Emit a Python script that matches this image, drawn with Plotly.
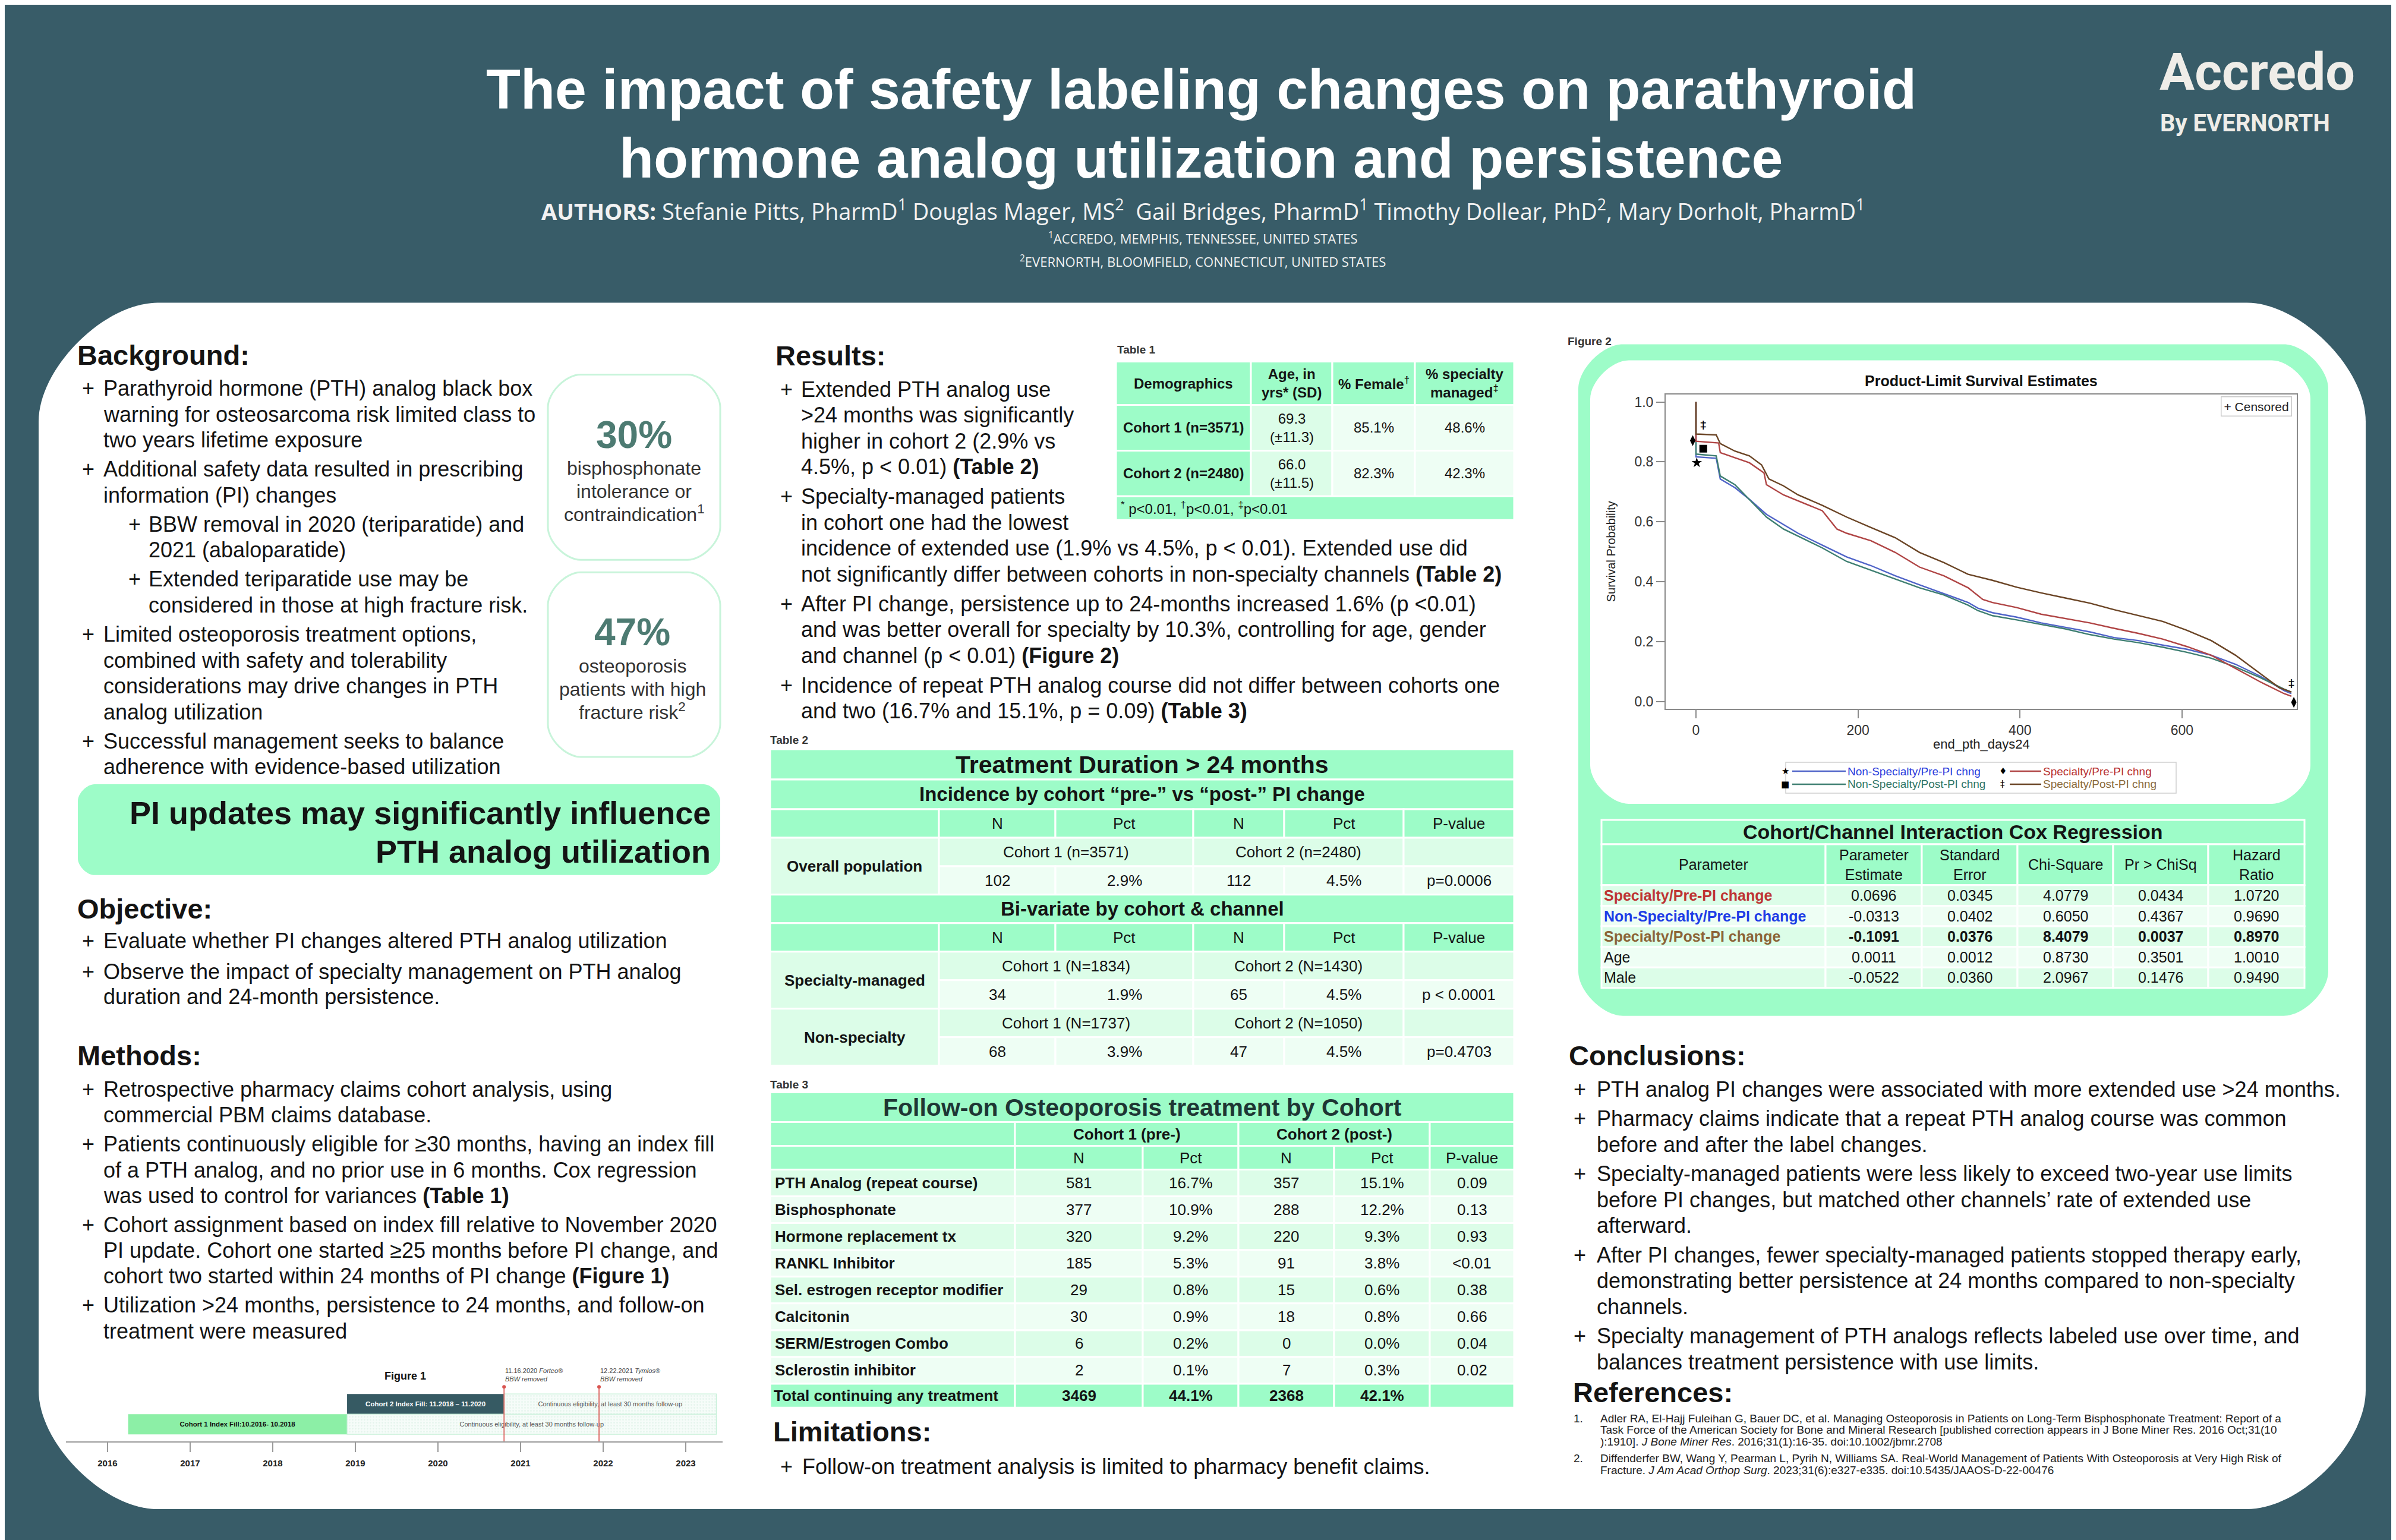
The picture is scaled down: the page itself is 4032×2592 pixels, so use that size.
import plotly.graph_objects as go

W, H = 4032, 2592
BG = "#385c68"
MINT = "#9dfcc8"
LIGHT1 = "#dcfde8"
LIGHT2 = "#eefef4"
INK = "#141414"
FONT = "Liberation Sans, Arial, sans-serif"

# ---------------- data: Figure 2 (Kaplan-Meier) ----------------
GROUP_NAMES = ["Non-Specialty/Pre-PI chng", "Non-Specialty/Post-PI chng",
               "Specialty/Pre-PI chng", "Specialty/Post-PI chng"]

NS_PRE_DAYS = [0, 0, 25, 30, 48, 66, 87, 108, 126, 156, 186, 216, 246, 276, 306, 336,
               348, 366, 396, 426, 456, 486, 516, 546, 576, 606, 636, 666, 696, 726, 735]
NS_PRE_SURV = [1.0, 0.817, 0.812, 0.743, 0.714, 0.675, 0.625, 0.591, 0.562, 0.522, 0.483,
               0.454, 0.42, 0.39, 0.361, 0.331, 0.312, 0.297, 0.282, 0.263, 0.248, 0.233,
               0.214, 0.204, 0.189, 0.175, 0.155, 0.125, 0.086, 0.037, 0.027]

NS_POST_DAYS = [0, 0, 25, 30, 48, 66, 87, 108, 126, 156, 186, 216, 246, 276, 306, 336,
                348, 366, 396, 426, 456, 486, 516, 546, 576, 606, 636, 666, 696, 726, 735]
NS_POST_SURV = [1.0, 0.826, 0.82, 0.753, 0.724, 0.675, 0.616, 0.576, 0.552, 0.513, 0.468,
                0.439, 0.41, 0.38, 0.356, 0.322, 0.304, 0.287, 0.273, 0.258, 0.243, 0.224,
                0.209, 0.197, 0.182, 0.165, 0.145, 0.116, 0.081, 0.042, 0.032]

S_PRE_DAYS = [0, 0, 28, 30, 48, 66, 84, 87, 108, 126, 156, 174, 186, 216, 246, 276, 306,
              336, 354, 366, 396, 426, 456, 486, 516, 546, 576, 606, 636, 666, 696, 726, 735]
S_PRE_SURV = [1.0, 0.869, 0.863, 0.831, 0.814, 0.797, 0.763, 0.724, 0.69, 0.67, 0.637,
              0.576, 0.562, 0.537, 0.498, 0.449, 0.42, 0.38, 0.341, 0.331, 0.314, 0.292,
              0.277, 0.263, 0.245, 0.228, 0.209, 0.184, 0.155, 0.111, 0.067, 0.027, 0.018]

S_POST_DAYS = [0, 0, 25, 30, 48, 66, 81, 90, 108, 126, 156, 186, 216, 246, 276, 306, 336,
               366, 396, 426, 456, 486, 516, 546, 576, 606, 636, 666, 696, 720, 735]
S_POST_SURV = [1.0, 0.893, 0.89, 0.861, 0.836, 0.82, 0.79, 0.743, 0.72, 0.69, 0.655,
               0.616, 0.581, 0.547, 0.498, 0.464, 0.425, 0.405, 0.382, 0.363, 0.346, 0.329,
               0.307, 0.287, 0.268, 0.238, 0.204, 0.155, 0.096, 0.047, 0.032]

# censored symbols drawn at both ends (star, square, diamond, double dagger)
CENS_MARK_X = [1, 9, -4, 747, 742, 738]
CENS_MARK_Y = [0.797, 0.844, 0.871, 0.008, 0.03, -0.002]
CENS_MARK_SYM = ["star", "square", "diamond-tall", "star", "square", "diamond-tall"]
CENS_DAG_X = [9, 735]
CENS_DAG_Y = [0.92, 0.057]

# ---------------- data: Figure 1 timeline ----------------
TL_LABELS = ["Cohort 1 Index Fill:10.2016- 10.2018", "Cohort 2 Index Fill: 11.2018 \u2013 11.2020"]
TL_ROW = [0, 1]
TL_START = [2016.25, 2018.9]
TL_END = [2018.9, 2020.8]
ELIG_LABEL = "Continuous eligibility, at least 30 months follow-up"
ELIG_START = [2018.9, 2020.8]
ELIG_END = [2023.37, 2023.37]
EVENT_X = [2020.8, 2021.95]
EVENT_TEXT = ["11.16.2020 <i>Forteo\u00ae</i><br><i>BBW removed</i>",
              "12.22.2021 <i>Tymlos\u00ae</i><br><i>BBW removed</i>"]
YEARS = [2016, 2017, 2018, 2019, 2020, 2021, 2022, 2023]

# ---------------- data: tables ----------------
T1_HEAD = ["Demographics", "Age, in<br>yrs* (SD)", "% Female<sup>\u2020</sup>",
           "% specialty<br>managed<sup>\u2021</sup>"]
T1_ROWS = ["Cohort 1 (n=3571)", "Cohort 2 (n=2480)"]
T1_AGE = ["69.3<br>(\u00b111.3)", "66.0<br>(\u00b111.5)"]
T1_FEMALE = ["85.1%", "82.3%"]
T1_SPEC = ["48.6%", "42.3%"]
T1_NOTE = "<sup>*</sup> p&lt;0.01, <sup>\u2020</sup>p&lt;0.01, <sup>\u2021</sup>p&lt;0.01"

T2_GROUPS = ["Overall population", "Specialty-managed", "Non-specialty"]
T2_C1_LABEL = ["Cohort 1 (n=3571)", "Cohort 1 (N=1834)", "Cohort 1 (N=1737)"]
T2_C2_LABEL = ["Cohort 2 (n=2480)", "Cohort 2 (N=1430)", "Cohort 2 (N=1050)"]
T2_C1_N = [102, 34, 68]
T2_C1_PCT = ["2.9%", "1.9%", "3.9%"]
T2_C2_N = [112, 65, 47]
T2_C2_PCT = ["4.5%", "4.5%", "4.5%"]
T2_P = ["p=0.0006", "p &lt; 0.0001", "p=0.4703"]
T2_HEAD = ["", "N", "Pct", "N", "Pct", "P-value"]

T3_ROWS = ["PTH Analog (repeat course)", "Bisphosphonate", "Hormone replacement tx",
           "RANKL Inhibitor", "Sel. estrogen receptor modifier", "Calcitonin",
           "SERM/Estrogen Combo", "Sclerostin inhibitor"]
T3_C1_N = [581, 377, 320, 185, 29, 30, 6, 2]
T3_C1_PCT = ["16.7%", "10.9%", "9.2%", "5.3%", "0.8%", "0.9%", "0.2%", "0.1%"]
T3_C2_N = [357, 288, 220, 91, 15, 18, 0, 7]
T3_C2_PCT = ["15.1%", "12.2%", "9.3%", "3.8%", "0.6%", "0.8%", "0.0%", "0.3%"]
T3_P = ["0.09", "0.13", "0.93", "&lt;0.01", "0.38", "0.66", "0.04", "0.02"]
T3_TOTAL = ["Total continuing any treatment", 3469, "44.1%", 2368, "42.1%", ""]

COX_HEAD = ["Parameter", "Parameter<br>Estimate", "Standard<br>Error", "Chi-Square",
            "Pr &gt; ChiSq", "Hazard<br>Ratio"]
COX_PARAM = ["Specialty/Pre-PI change", "Non-Specialty/Pre-PI change",
             "Specialty/Post-PI change", "Age", "Male"]
COX_EST = ["0.0696", "-0.0313", "-0.1091", "0.0011", "-0.0522"]
COX_SE = ["0.0345", "0.0402", "0.0376", "0.0012", "0.0360"]
COX_CHI = ["4.0779", "0.6050", "8.4079", "0.8730", "2.0967"]
COX_P = ["0.0434", "0.4367", "0.0037", "0.3501", "0.1476"]
COX_HR = ["1.0720", "0.9690", "0.8970", "1.0010", "0.9490"]

# ---------------- poster text ----------------
BACKGROUND = [
    (0, ["Parathyroid hormone (PTH) analog black box",
         "warning for osteosarcoma risk limited class to",
         "two years lifetime exposure"]),
    (0, ["Additional safety data resulted in prescribing", "information (PI) changes"]),
    (1, ["BBW removal in 2020 (teriparatide) and", "2021 (abaloparatide)"]),
    (1, ["Extended teriparatide use may be", "considered in those at high fracture risk."]),
    (0, ["Limited osteoporosis treatment options,", "combined with safety and tolerability",
         "considerations may drive changes in PTH", "analog utilization"]),
    (0, ["Successful management seeks to balance",
         "adherence with evidence-based utilization"]),
]
OBJECTIVE = [
    (0, ["Evaluate whether PI changes altered PTH analog utilization"]),
    (0, ["Observe the impact of specialty management on PTH analog",
         "duration and 24-month persistence."]),
]
METHODS = [
    (0, ["Retrospective pharmacy claims cohort analysis, using",
         "commercial PBM claims database."]),
    (0, ["Patients continuously eligible for \u226530 months, having an index fill",
         "of a PTH analog, and no prior use in 6 months. Cox regression",
         "was used to control for variances <b>(Table 1)</b>"]),
    (0, ["Cohort assignment based on index fill relative to November 2020",
         "PI update. Cohort one started \u226525 months before PI change, and",
         "cohort two started within 24 months of PI change <b>(Figure 1)</b>"]),
    (0, ["Utilization &gt;24 months, persistence to 24 months, and follow-on",
         "treatment were measured"]),
]
RESULTS = [
    (0, ["Extended PTH analog use", "&gt;24 months was significantly",
         "higher in cohort 2 (2.9% vs", "4.5%, p &lt; 0.01) <b>(Table 2)</b>"]),
    (0, ["Specialty-managed patients", "in cohort one had the lowest",
         "incidence of extended use (1.9% vs 4.5%, p &lt; 0.01). Extended use did",
         "not significantly differ between cohorts in non-specialty channels <b>(Table 2)</b>"]),
    (0, ["After PI change, persistence up to 24-months increased 1.6% (p &lt;0.01)",
         "and was better overall for specialty by 10.3%, controlling for age, gender",
         "and channel (p &lt; 0.01) <b>(Figure 2)</b>"]),
    (0, ["Incidence of repeat PTH analog course did not differ between cohorts one",
         "and two (16.7% and 15.1%, p = 0.09) <b>(Table 3)</b>"]),
]
LIMITATIONS = [(0, ["Follow-on treatment analysis is limited to pharmacy benefit claims."])]
CONCLUSIONS = [
    (0, ["PTH analog PI changes were associated with more extended use &gt;24 months."]),
    (0, ["Pharmacy claims indicate that a repeat PTH analog course was common",
         "before and after the label changes."]),
    (0, ["Specialty-managed patients were less likely to exceed two-year use limits",
         "before PI changes, but matched other channels\u2019 rate of extended use",
         "afterward."]),
    (0, ["After PI changes, fewer specialty-managed patients stopped therapy early,",
         "demonstrating better persistence at 24 months compared to non-specialty",
         "channels."]),
    (0, ["Specialty management of PTH analogs reflects labeled use over time, and",
         "balances treatment persistence with use limits."]),
]
REFERENCES = [
    ["Adler RA, El-Hajj Fuleihan G, Bauer DC, et al. Managing Osteoporosis in Patients on Long-Term Bisphosphonate Treatment: Report of a",
     "Task Force of the American Society for Bone and Mineral Research [published correction appears in J Bone Miner Res. 2016 Oct;31(10",
     "):1910]. <i>J Bone Miner Res</i>. 2016;31(1):16-35. doi:10.1002/jbmr.2708"],
    ["Diffenderfer BW, Wang Y, Pearman L, Pyrih N, Williams SA. Real-World Management of Patients With Osteoporosis at Very High Risk of",
     "Fracture. <i>J Am Acad Orthop Surg</i>. 2023;31(6):e327-e335. doi:10.5435/JAAOS-D-22-00476"],
]

# ---------------- helpers (pixel -> paper) ----------------
shapes, annos = [], []


def X(v):
    return v / W


def Y(v):
    return 1 - v / H


def text(x, y, s, size=36, color=INK, anchor="left", family=FONT, yanchor="middle", **kw):
    annos.append(dict(xref="paper", yref="paper", x=X(x), y=Y(y), text=s, showarrow=False,
                      xanchor=anchor, yanchor=yanchor,
                      font=dict(size=size, color=color, family=family), **kw))


def rect(x0, y0, x1, y1, fill, line="white", lw=0):
    shapes.append(dict(type="rect", xref="paper", yref="paper", x0=X(x0), x1=X(x1),
                       y0=Y(y1), y1=Y(y0), fillcolor=fill,
                       line=dict(color=line, width=lw), layer="below"))


def rrect(x0, y0, x1, y1, r, fill, line=None, lw=0):
    k = 0.45 * r
    P = lambda a, b: "%.6f,%.6f" % (X(a), Y(b))
    path = ("M" + P(x0 + r, y0) + " L" + P(x1 - r, y0)
            + " C" + P(x1 - r + k, y0) + " " + P(x1, y0 + r - k) + " " + P(x1, y0 + r)
            + " L" + P(x1, y1 - r)
            + " C" + P(x1, y1 - r + k) + " " + P(x1 - r + k, y1) + " " + P(x1 - r, y1)
            + " L" + P(x0 + r, y1)
            + " C" + P(x0 + r - k, y1) + " " + P(x0, y1 - r + k) + " " + P(x0, y1 - r)
            + " L" + P(x0, y0 + r)
            + " C" + P(x0, y0 + r - k) + " " + P(x0 + r - k, y0) + " " + P(x0 + r, y0) + " Z")
    shapes.append(dict(type="path", xref="paper", yref="paper", path=path, fillcolor=fill,
                       line=dict(color=line or fill, width=lw), layer="below"))


def cell(x0, y0, x1, y1, fill, s="", size=26, color=INK, align="center", pad=8):
    rect(x0, y0, x1, y1, fill, "white", 3)
    if s == "":
        return
    if align == "left":
        text(x0 + pad, (y0 + y1) / 2, s, size, color)
    else:
        text((x0 + x1) / 2, (y0 + y1) / 2, s, size, color, "center")


def bullets(items, y0, xp, xt, xsp=0, xst=0, lh=43.6, gap=5.5, size=36):
    y = y0
    for n, (lvl, lines) in enumerate(items):
        if n:
            y += gap
        bx, tx = (xp, xt) if lvl == 0 else (xsp, xst)
        text(bx, y, "+", size)
        for line in lines:
            text(tx, y, line, size)
            y += lh


def bold(v):
    return "<b>%s</b>" % v


# ---------------- header ----------------
text(2013, 141, bold("The impact of safety labeling changes on parathyroid"), 95, "white", "center")
text(2013, 257, bold("hormone analog utilization and persistence"), 95, "white", "center")
text(2016, 345, "<b>AUTHORS:</b> Stefanie Pitts, PharmD<sup>1</sup> Douglas Mager, MS<sup>2</sup>  "
     "Gail Bridges, PharmD<sup>1</sup> Timothy Dollear, PhD<sup>2</sup>, Mary Dorholt, PharmD<sup>1</sup>",
     38, "#f2f2f2", "center", family="Open Sans")
text(2016, 392, "<sup>1</sup>ACCREDO, MEMPHIS, TENNESSEE, UNITED STATES", 22, "#f2f2f2", "center",
     family="Open Sans")
text(2016, 431, "<sup>2</sup>EVERNORTH, BLOOMFIELD, CONNECTICUT, UNITED STATES", 22, "#f2f2f2",
     "center", family="Open Sans")
text(3624, 112, bold("Accredo"), 88, "#efede8", family="Roboto")
text(3625, 199, bold("By EVERNORTH"), 40, "#efede8", family="Roboto")

# white content panel
rrect(57, 501, 3973, 2533, 200, "white")

# ---------------- left column ----------------
text(120, 589, bold("Background:"), 47)
bullets(BACKGROUND, 645, 128, 164, 206, 240)

rrect(914, 622, 1204, 934, 55, "white", "#c8f4da", 3)
rrect(914, 955, 1204, 1266, 55, "white", "#c8f4da", 3)
text(1059, 724, bold("30%"), 64, "#4d7b72", "center")
for s, y in zip(["bisphosphonate", "intolerance or", "contraindication<sup>1</sup>"], [780, 819, 856]):
    text(1059, y, s, 32, "#333333", "center")
text(1056, 1056, bold("47%"), 64, "#4d7b72", "center")
for s, y in zip(["osteoporosis", "patients with high", "fracture risk<sup>2</sup>"], [1113, 1152, 1189]):
    text(1056, y, s, 32, "#333333", "center")

rrect(123, 1312, 1204, 1465, 28, MINT)
text(1190, 1360, bold("PI updates may significantly influence"), 54, INK, "right")
text(1190, 1425, bold("PTH analog utilization"), 54, INK, "right")

text(120, 1522, bold("Objective:"), 47)
bullets(OBJECTIVE, 1576, 128, 164, lh=42.5, gap=9)

text(120, 1769, bold("Methods:"), 47)
bullets(METHODS, 1826, 128, 164, lh=43.2, gap=6)

# ---------------- middle column ----------------
text(1295, 590, bold("Results:"), 47)
bullets(RESULTS, 647, 1303, 1338, lh=43.4, gap=7)

# Table 1
text(1870, 580, bold("Table 1"), 19, "#333333")
c1 = [1870, 2097, 2234, 2373, 2540]
r1 = [600, 673, 750, 827, 867]
for j, h in enumerate(T1_HEAD):
    cell(c1[j], r1[0], c1[j + 1], r1[1], MINT, bold(h), 24)
for i in range(2):
    cell(c1[0], r1[i + 1], c1[1], r1[i + 2], MINT, bold(T1_ROWS[i]), 24)
    cell(c1[1], r1[i + 1], c1[2], r1[i + 2], LIGHT1, T1_AGE[i], 24)
    cell(c1[2], r1[i + 1], c1[3], r1[i + 2], LIGHT2, T1_FEMALE[i], 24)
    cell(c1[3], r1[i + 1], c1[4], r1[i + 2], LIGHT2, T1_SPEC[i], 24)
cell(c1[0], r1[3], c1[4], r1[4], MINT, T1_NOTE, 24, align="left", pad=6)

# Table 2
text(1286, 1237, bold("Table 2"), 19, "#333333")
c2 = [1288, 1572, 1768, 2000, 2153, 2354, 2540]
cell(c2[0], 1253, c2[6], 1304, MINT, bold("Treatment Duration &gt; 24 months"), 41)
cell(c2[0], 1304, c2[6], 1354, MINT,
     bold("Incidence by cohort \u201cpre-\u201d vs \u201cpost-\u201d PI change"), 33)
section_top = [1354, 1546, 1690]
for g in range(3):
    top = section_top[g]
    if g == 1:
        cell(c2[0], 1498, c2[6], 1546, MINT, bold("Bi-variate by cohort &amp; channel"), 33)
    if g < 2:
        for j, h in enumerate(T2_HEAD):
            cell(c2[j], top, c2[j + 1], top + 48, MINT, h, 26)
        ra = top + 48
    else:
        ra = top
    rb, rc = ra + 48, ra + 96
    cell(c2[0], ra, c2[1], rc, LIGHT1, bold(T2_GROUPS[g]), 26)
    cell(c2[1], ra, c2[3], rb, LIGHT1, T2_C1_LABEL[g], 26)
    cell(c2[3], ra, c2[5], rb, LIGHT1, T2_C2_LABEL[g], 26)
    cell(c2[5], ra, c2[6], rb, LIGHT1)
    vals = [T2_C1_N[g], T2_C1_PCT[g], T2_C2_N[g], T2_C2_PCT[g], T2_P[g]]
    for j, v in enumerate(vals):
        cell(c2[j + 1], rb, c2[j + 2], rc, LIGHT2, str(v), 26)

# Table 3
text(1286, 1818, bold("Table 3"), 19, "#333333")
c3 = [1288, 1700, 1915, 2076, 2237, 2398, 2540]
cell(c3[0], 1831, c3[6], 1881, MINT, bold("Follow-on Osteoporosis treatment by Cohort"), 41, "#1e3634")
cell(c3[0], 1881, c3[1], 1921, MINT)
cell(c3[1], 1881, c3[3], 1921, MINT, bold("Cohort 1 (pre-)"), 26)
cell(c3[3], 1881, c3[5], 1921, MINT, bold("Cohort 2 (post-)"), 26)
cell(c3[5], 1881, c3[6], 1921, MINT)
for j, h in enumerate(T2_HEAD):
    cell(c3[j], 1921, c3[j + 1], 1961, MINT, h, 26)
rh = 45.1
for i, lab in enumerate(T3_ROWS):
    y0 = 1961 + i * rh
    fill = LIGHT1 if i % 2 == 0 else LIGHT2
    cell(c3[0], y0, c3[1], y0 + rh, fill, bold(lab), 26, align="left", pad=6)
    vals = [T3_C1_N[i], T3_C1_PCT[i], T3_C2_N[i], T3_C2_PCT[i], T3_P[i]]
    for j, v in enumerate(vals):
        cell(c3[j + 1], y0, c3[j + 2], y0 + rh, fill, str(v), 26)
yt = 1961 + 8 * rh
for j, v in enumerate(T3_TOTAL):
    cell(c3[j], yt, c3[j + 1], 2362, MINT, bold(v) if v != "" else "", 26,
         align="left" if j == 0 else "center", pad=4)

text(1291, 2402, bold("Limitations:"), 47)
bullets(LIMITATIONS, 2461, 1303, 1340)

# ---------------- right column ----------------
text(2628, 566, bold("Figure 2"), 19, "#333333")
rrect(2648, 571, 3910, 1702, 75, MINT)
rrect(2668, 598, 3880, 1345, 65, "white")
text(3326, 632, bold("Product-Limit Survival Estimates"), 25, "#111111", "center")
text(3326, 1244, "end_pth_days24", 22, "#222222", "center")
text(2703, 920, "Survival Probability", 20, "#222222", "center", textangle=-90)

# survival legend (drawn by hand, as in the SAS output)
rect(2997, 1275, 3654, 1327, "white", "#cfcfcf", 1.5)
LEG_LINE = ["#5064c8", "#3f7f72", "#b04545", "#6b4526"]
LEG_TEXT = ["#2a3cdc", "#2f7565", "#b8312f", "#8a6a3a"]
LEG_GLYPH = ["\u2605", "\u25a0", "\u2666", "\u2021"]
leg_pos = [(2996, 1290, 90), (2996, 1312, 90), (3362, 1290, 53), (3362, 1312, 53)]
for k in range(4):
    lx, ly, ln = leg_pos[k]
    text(lx, ly, LEG_GLYPH[k], 15, "#000000", "center", family="DejaVu Sans")
    shapes.append(dict(type="line", xref="paper", yref="paper", x0=X(lx + 12), x1=X(lx + 12 + ln),
                       y0=Y(ly), y1=Y(ly), line=dict(color=LEG_LINE[k], width=2.5)))
    text(lx + 13 + ln, ly, GROUP_NAMES[k], 19, LEG_TEXT[k])

# Cox regression table
cc = [2687, 3064, 3226, 3387, 3548, 3708, 3870]
cell(cc[0], 1372, cc[6], 1413, MINT, bold("Cohort/Channel Interaction Cox Regression"), 34)
for j, h in enumerate(COX_HEAD):
    cell(cc[j], 1413, cc[j + 1], 1482, MINT, h, 25)
COX_NAME_COLOR = ["#be3434", "#1e3ce6", "#8c6437", INK, INK]
cox_rows = list(zip(COX_EST, COX_SE, COX_CHI, COX_P, COX_HR))
crh = (1655 - 1482) / 5
for i, name in enumerate(COX_PARAM):
    y0 = 1482 + i * crh
    fill = LIGHT1 if i % 2 == 0 else LIGHT2
    cell(cc[0], y0, cc[1], y0 + crh, fill, bold(name) if i < 3 else name, 25,
         COX_NAME_COLOR[i], align="left", pad=2)
    for j, v in enumerate(cox_rows[i]):
        cell(cc[j + 1], y0, cc[j + 2], y0 + crh, fill, bold(v) if i == 2 else v, 25)

text(2630, 1769, bold("Conclusions:"), 47)
bullets(CONCLUSIONS, 1826, 2638, 2677, lh=43.7, gap=5.5)

text(2637, 2336, bold("References:"), 47)
ry = 2380
for n, ref in enumerate(REFERENCES):
    text(2638, ry, "%d." % (n + 1), 19, "#222222")
    for line in ref:
        text(2683, ry, line, 19, "#222222")
        ry += 19.5
    ry += 9

# ---------------- Figure 1 (timeline) ----------------
text(674, 2309, bold("Figure 1"), 18, "#111111", "center")

# ---------------- traces ----------------
fig = go.Figure()

curves = [(NS_PRE_DAYS, NS_PRE_SURV), (NS_POST_DAYS, NS_POST_SURV),
          (S_PRE_DAYS, S_PRE_SURV), (S_POST_DAYS, S_POST_SURV)]
for k, (dx, sy) in enumerate(curves):
    fig.add_trace(go.Scatter(x=dx, y=sy, mode="lines", name=GROUP_NAMES[k],
                             line=dict(color=LEG_LINE[k], width=2.4),
                             xaxis="x", yaxis="y", showlegend=False, hoverinfo="skip"))
fig.add_trace(go.Scatter(x=CENS_MARK_X, y=CENS_MARK_Y, mode="markers", xaxis="x", yaxis="y",
                         marker=dict(symbol=CENS_MARK_SYM, size=13, color="black"),
                         showlegend=False, cliponaxis=False, hoverinfo="skip"))
fig.add_trace(go.Scatter(x=CENS_DAG_X, y=CENS_DAG_Y, mode="text", text=["\u2021"] * 2,
                         textfont=dict(size=20, color="black", family="DejaVu Sans"),
                         xaxis="x", yaxis="y", showlegend=False, cliponaxis=False,
                         hoverinfo="skip"))
annos.append(dict(xref="x", yref="y", x=736, y=0.985, text="+ Censored", showarrow=False,
                  xanchor="right", yanchor="middle", bgcolor="white", bordercolor="#c8c8c8",
                  borderwidth=1.5, borderpad=4, font=dict(size=21, color="#222", family=FONT)))

# timeline bars
fig.add_trace(go.Bar(orientation="h", y=TL_ROW, base=TL_START,
                     x=[e - s for s, e in zip(TL_START, TL_END)], width=1.0,
                     marker=dict(color=["#8cefa6", "#365a63"], line=dict(width=0)),
                     text=[bold(t) for t in TL_LABELS], textposition="inside",
                     insidetextanchor="middle", textangle=0,
                     textfont=dict(size=11.5, color=["#111111", "#ffffff"], family=FONT),
                     xaxis="x2", yaxis="y2", showlegend=False, hoverinfo="skip"))
fig.add_trace(go.Bar(orientation="h", y=TL_ROW, base=ELIG_START,
                     x=[e - s for s, e in zip(ELIG_START, ELIG_END)], width=1.0,
                     marker=dict(color="#f6fcf9", line=dict(width=1.2, color="#c6f0d8"),
                                 pattern=dict(shape=".", fgcolor="#d3ebdf", size=5, solidity=0.25)),
                     text=[ELIG_LABEL] * 2, textposition="inside", insidetextanchor="middle",
                     textangle=0, textfont=dict(size=11, color="#555555", family=FONT),
                     xaxis="x2", yaxis="y2", showlegend=False, hoverinfo="skip"))
for ex, et in zip(EVENT_X, EVENT_TEXT):
    fig.add_trace(go.Scatter(x=[ex, ex], y=[-0.853, 1.85], mode="lines",
                             line=dict(color="#d9534f", width=1.6), xaxis="x2", yaxis="y2",
                             showlegend=False, hoverinfo="skip"))
    fig.add_trace(go.Scatter(x=[ex], y=[1.85], mode="markers",
                             marker=dict(color="#d9534f", size=6), xaxis="x2", yaxis="y2",
                             showlegend=False, hoverinfo="skip"))
    annos.append(dict(xref="x2", yref="paper", x=ex, y=Y(2322), text=et, showarrow=False,
                      xanchor="left", yanchor="bottom", align="left",
                      font=dict(size=11, color="#444444", family=FONT)))

axis_common = dict(showgrid=False, zeroline=False, showline=True, mirror=True,
                   linecolor="#8a8a8a", linewidth=2, ticks="outside", ticklen=14,
                   tickwidth=2, tickcolor="#8a8a8a",
                   tickfont=dict(size=23, color="#333333", family=FONT))

fig.update_layout(
    width=W, height=H, margin=dict(l=0, r=0, t=0, b=0),
    paper_bgcolor=BG, plot_bgcolor="rgba(0,0,0,0)",
    showlegend=False, barmode="overlay",
    shapes=shapes, annotations=annos,
    xaxis=dict(domain=[X(2795), X(3857)], range=[-37.4, 741.6], tickvals=[0, 200, 400, 600],
               anchor="y", **axis_common),
    yaxis=dict(domain=[Y(1185), Y(656)], range=[-0.0238, 1.0238],
               tickvals=[0, 0.2, 0.4, 0.6, 0.8, 1.0], tickformat=".1f", anchor="x",
               **axis_common),
    xaxis2=dict(domain=[X(103), X(1208)], range=[2015.497, 2023.446], anchor="y2",
                showgrid=False, zeroline=False, showline=True, linecolor="#9a9a9a",
                linewidth=2, ticks="outside", ticklen=16, tickwidth=1.5, tickcolor="#9a9a9a",
                tickvals=YEARS, ticktext=[bold(y) for y in YEARS], ticklabelstandoff=6,
                tickfont=dict(size=15, color="#222222", family=FONT)),
    yaxis2=dict(domain=[Y(2419), Y(2290)], range=[-0.853, 2.941], visible=False, anchor="x2"),
)

fig.write_html("out.html")
